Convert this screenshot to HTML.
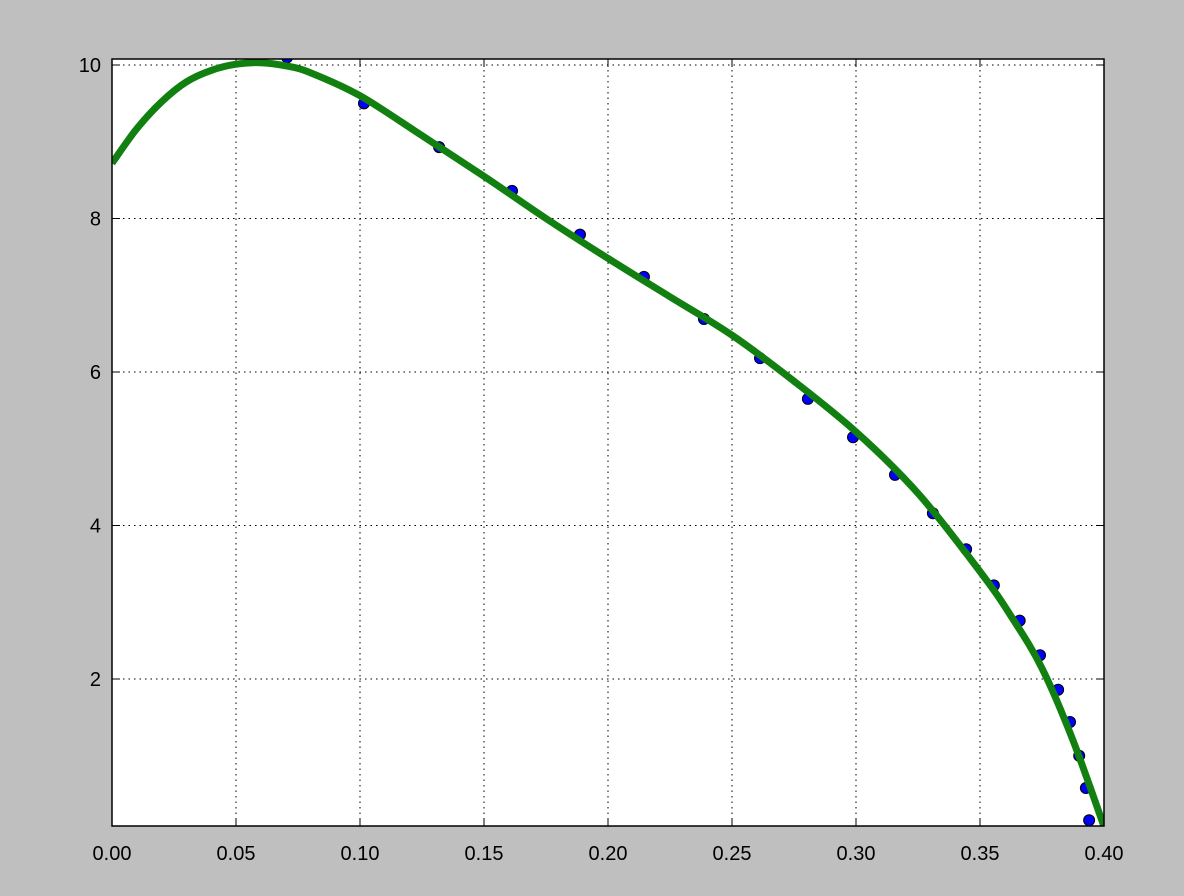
<!DOCTYPE html>
<html><head><meta charset="utf-8"><style>
html,body{margin:0;padding:0;background:#bfbfbf;}
svg{display:block;font-family:"Liberation Sans","DejaVu Sans",sans-serif;}
</style></head><body>
<svg id="chart" width="1184" height="896" xmlns="http://www.w3.org/2000/svg">
<rect x="0" y="0" width="1184" height="896" fill="#bfbfbf"/>
<defs><clipPath id="clip"><rect x="112" y="59" width="992" height="767"/></clipPath></defs>
<rect x="112" y="59" width="992" height="767" fill="#fff"/>
<g id="grid"></g>
<g id="ticks"></g>
<g id="series" clip-path="url(#clip)"></g>
<rect x="112" y="59" width="992" height="767" fill="none" stroke="#000" stroke-width="1.5"/>
</svg>
<script>
const xTicks=[0,0.05,0.10,0.15,0.20,0.25,0.30,0.35,0.40];
const xTickLabels=["0.00","0.05","0.10","0.15","0.20","0.25","0.30","0.35","0.40"];
const yTicks=[2,4,6,8,10];
const yTickLabels=["2","4","6","8","10"];
const dotX=[0.0706,0.1016,0.1319,0.1613,0.1887,0.2145,0.2387,0.2613,0.2806,0.2988,0.3157,0.331,0.3444,0.3556,0.366,0.3742,0.3815,0.3863,0.390,0.3927,0.394];
const dotY=[10.1,9.50,8.93,8.36,7.79,7.24,6.69,6.18,5.65,5.15,4.66,4.16,3.69,3.22,2.76,2.31,1.86,1.44,1.00,0.58,0.16];
const fitX=[0,0.01,0.02,0.03,0.04,0.05,0.06,0.07,0.08,0.10,0.125,0.15,0.175,0.20,0.225,0.25,0.275,0.30,0.325,0.35,0.3625,0.375,0.3875,0.40];
const fitY=[8.72,9.17,9.52,9.78,9.93,10.01,10.03,9.99,9.9,9.6,9.08,8.55,8.0,7.48,6.98,6.48,5.88,5.22,4.42,3.4,2.82,2.14,1.2,0.08];
const X0=112,X1=1104,XMIN=0,XMAX=0.4;
const Y10=65,YPER=76.75;
const sx=v=>X0+(v-XMIN)/(XMAX-XMIN)*(X1-X0);
const sy=v=>Y10+(10-v)*YPER;
const NS="http://www.w3.org/2000/svg";
function mk(tag,attrs,parent){const e=document.createElementNS(NS,tag);for(const k in attrs)e.setAttribute(k,attrs[k]);parent.appendChild(e);return e;}
const grid=document.getElementById('grid'),ticks=document.getElementById('ticks'),series=document.getElementById('series');
xTicks.forEach((t,i)=>{
 const x=sx(t);
 const g=mk('line',{x1:x,x2:x,y1:59,y2:826,stroke:'#000','stroke-width':1,'stroke-dasharray':'1.5,4'},grid);
 
 
 const a=mk('line',{x1:x,x2:x,y1:826,y2:818,stroke:'#000','stroke-width':1},ticks);
 
 
 const b=mk('line',{x1:x,x2:x,y1:59,y2:67,stroke:'#000','stroke-width':1},ticks);
 
 
 const l=mk('text',{x:x,y:860,'text-anchor':'middle','font-size':20,fill:'#000'},ticks);
 l.textContent=xTickLabels[i];
 
 
});
yTicks.forEach((t,i)=>{
 const y=sy(t);
 const g=mk('line',{x1:112,x2:1104,y1:y,y2:y,stroke:'#000','stroke-width':1,'stroke-dasharray':'1.5,4'},grid);
 
 
 const a=mk('line',{x1:112,x2:120,y1:y,y2:y,stroke:'#000','stroke-width':1},ticks);
 
 
 const b=mk('line',{x1:1096,x2:1104,y1:y,y2:y,stroke:'#000','stroke-width':1},ticks);
 
 
 const l=mk('text',{x:101,y:y+7,'text-anchor':'end','font-size':20,fill:'#000'},ticks);
 l.textContent=yTickLabels[i];
 
 
});
dotX.forEach((v,i)=>{
 const c=mk('circle',{cx:sx(v),cy:sy(dotY[i]),r:5.5,fill:'#0000ff',stroke:'#000','stroke-width':1},series);
 
 
});
const P=fitX.map((v,i)=>[sx(v),sy(fitY[i])]);
let d='M'+P[0][0].toFixed(1)+','+P[0][1].toFixed(1);
for(let i=0;i<P.length-1;i++){
 const p0=P[Math.max(0,i-1)],p1=P[i],p2=P[i+1],p3=P[Math.min(P.length-1,i+2)];
 const c1=[p1[0]+(p2[0]-p0[0])/6,p1[1]+(p2[1]-p0[1])/6];
 const c2=[p2[0]-(p3[0]-p1[0])/6,p2[1]-(p3[1]-p1[1])/6];
 d+='C'+c1[0].toFixed(1)+','+c1[1].toFixed(1)+' '+c2[0].toFixed(1)+','+c2[1].toFixed(1)+' '+p2[0].toFixed(1)+','+p2[1].toFixed(1);
}
const p=mk('path',{d:d,fill:'none',stroke:'#118011','stroke-width':7,'stroke-linejoin':'round'},series);


</script>
</body></html>
